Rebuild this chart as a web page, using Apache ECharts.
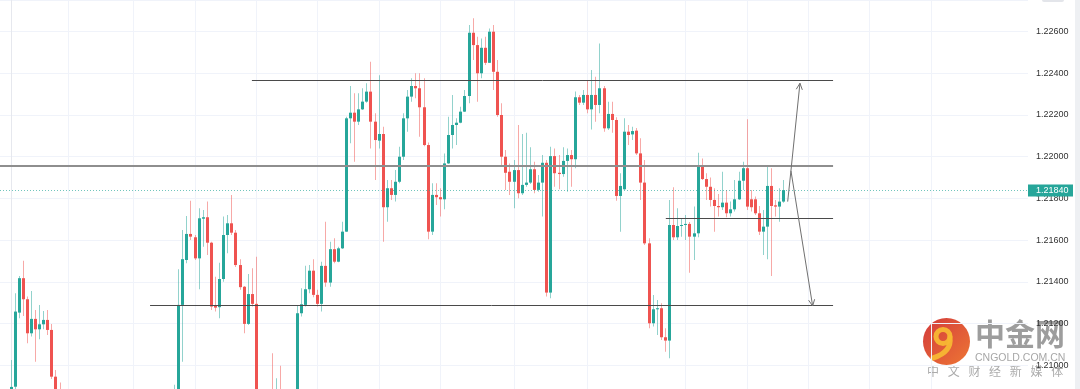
<!DOCTYPE html>
<html><head><meta charset="utf-8">
<script src="https://cdn.jsdelivr.net/npm/echarts@6/dist/echarts.min.js"></script>
<style>html,body{margin:0;padding:0;background:#fff;}#chart{width:1080px;height:389px;}</style>
</head><body><div id="chart"></div>
<script>
// ---- data (candle index = position in array; null = candle outside the visible price range) ----
const opens = [
1.20835,1.20898,1.21253,1.21418,1.21317,1.21154,1.21223,1.21173,1.21197,1.21218,
1.21170,1.20946,1.20859,null,null,null,null,null,null,null,
null,null,null,null,null,null,null,null,null,null,
null,null,null,null,null,null,null,null,null,null,
1.20835,1.20859,1.21290,1.21505,1.21630,1.21614,1.21513,1.21703,1.21710,1.21588,
1.21285,1.21279,1.21414,1.21625,1.21681,1.21636,1.21481,1.21377,1.21199,1.21342,
1.21295,null,null,null,1.20800,1.20680,1.20830,null,null,null,
1.20835,1.21250,1.21290,1.21365,1.21454,1.21338,1.21295,1.21477,1.21397,1.21557,
1.21497,1.21561,1.21641,1.22184,1.22211,1.22168,1.22227,1.22264,1.22312,1.22168,
1.22077,1.22109,1.21758,1.21849,1.21817,1.21880,1.22000,1.22184,1.22288,1.22339,
1.22328,1.22237,1.22056,1.21641,1.21817,1.21806,1.21796,1.21968,1.22104,1.22152,
1.22163,1.22216,1.22291,1.22594,1.22535,1.22400,1.22522,1.22450,1.22599,1.22407,
1.22200,1.22000,1.21928,1.21880,1.21936,1.21825,1.21865,1.21876,1.21940,1.21841,
1.21876,1.21971,1.21349,1.22003,1.21923,1.21917,1.21980,1.22008,1.21988,1.22285,
1.22259,1.22296,1.22227,1.22296,1.22248,1.22328,1.22136,1.22205,1.22176,1.21812,
1.21844,1.22120,1.22107,1.22125,1.22016,1.21876,1.21585,1.21202,1.21269,1.21274,
1.21135,1.21119,1.21673,1.21614,1.21668,1.21673,1.21678,1.21617,1.21633,1.21952,
1.21893,1.21856,1.21793,1.21764,1.21758,1.21780,1.21729,1.21748,1.21796,1.21885,
1.21945,1.21796,1.21796,1.21729,1.21641,1.21665,1.21860,1.21767,1.21761,1.21785
];
const closes = [
1.20897,1.21258,1.21418,1.21317,1.21154,1.21223,1.21173,1.21197,1.21218,1.21170,
1.20946,1.20859,1.20811,null,null,null,null,null,null,null,
null,null,null,null,null,null,null,null,null,null,
null,null,null,null,null,null,null,null,null,null,
1.20873,1.21290,1.21509,1.21630,1.21617,1.21513,1.21705,1.21710,1.21588,1.21282,
1.21277,1.21414,1.21625,1.21681,1.21636,1.21481,1.21375,1.21199,1.21342,1.21295,
1.20859,null,null,null,1.20700,1.20820,1.20720,null,null,null,
1.21250,1.21293,1.21365,1.21454,1.21338,1.21295,1.21477,1.21397,1.21557,1.21497,
1.21561,1.21641,1.22184,1.22211,1.22168,1.22227,1.22264,1.22312,1.22168,1.22080,
1.22109,1.21758,1.21849,1.21817,1.21880,1.22000,1.22184,1.22288,1.22339,1.22328,
1.22237,1.22056,1.21641,1.21817,1.21806,1.21796,1.21968,1.22104,1.22152,1.22163,
1.22216,1.22291,1.22594,1.22535,1.22400,1.22522,1.22450,1.22599,1.22407,1.22200,
1.22000,1.21923,1.21880,1.21936,1.21825,1.21865,1.21876,1.21940,1.21841,1.21876,
1.21971,1.21349,1.22003,1.21921,1.21917,1.21980,1.22008,1.21988,1.22285,1.22259,
1.22296,1.22227,1.22296,1.22248,1.22328,1.22136,1.22205,1.22176,1.21812,1.21860,
1.22120,1.22104,1.22123,1.22016,1.21876,1.21585,1.21202,1.21269,1.21274,1.21135,
1.21119,1.21673,1.21614,1.21668,1.21673,1.21678,1.21617,1.21633,1.21952,1.21893,
1.21856,1.21793,1.21764,1.21758,1.21780,1.21729,1.21748,1.21796,1.21885,1.21945,
1.21761,1.21758,1.21729,1.21641,1.21665,1.21860,1.21764,1.21761,1.21785,1.21840
];
const highs = [
1.21026,1.21346,1.21429,1.21502,1.21330,1.21357,1.21266,1.21290,1.21261,1.21266,
1.21199,1.20978,1.20918,null,null,null,null,null,null,null,
null,null,null,null,null,null,null,null,null,null,
null,null,null,null,null,null,null,null,null,null,
1.20907,1.21461,1.21649,1.21716,1.21789,1.21625,1.21753,1.21745,1.21785,1.21593,
1.21425,1.21492,1.21713,1.21721,1.21817,1.21649,1.21509,1.21381,1.21438,1.21466,
1.21521,null,null,null,1.21058,1.20939,1.20998,null,null,null,
1.21290,1.21370,1.21477,1.21481,1.21509,1.21362,1.21497,1.21689,1.21593,1.21609,
1.21569,1.21689,1.22192,1.22339,1.22304,1.22304,1.22328,1.22352,1.22455,1.22208,
1.22391,1.22144,1.21889,1.21889,1.21936,1.22048,1.22208,1.22320,1.22376,1.22400,
1.22400,1.22376,1.22068,1.21873,1.21873,1.21849,1.22016,1.22192,1.22296,1.22184,
1.22240,1.22320,1.22631,1.22663,1.22575,1.22567,1.22575,1.22615,1.22631,1.22463,
1.22256,1.22032,1.21968,1.21984,1.22152,1.22109,1.22115,1.22045,1.21976,1.21912,
1.22008,1.21984,1.22048,1.22040,1.22008,1.22045,1.22040,1.22032,1.22312,1.22296,
1.22320,1.22368,1.22415,1.22383,1.22543,1.22339,1.22264,1.22264,1.22189,1.21921,
1.22184,1.22152,1.22144,1.22138,1.22088,1.21984,1.21609,1.21338,1.21314,1.21298,
1.21178,1.21793,1.21854,1.21753,1.21705,1.21721,1.21687,1.21761,1.22019,1.21992,
1.21921,1.21901,1.21849,1.21821,1.21928,1.21841,1.21785,1.21889,1.21928,1.21976,
1.22179,1.21841,1.21809,1.21764,1.21745,1.21952,1.21945,1.21793,1.21849,1.21889
];
const lows = [
1.20787,1.20873,1.21226,1.21237,1.21106,1.21138,1.21018,1.21125,1.21173,1.21146,
1.20935,1.20835,1.20787,null,null,null,null,null,null,null,
null,null,null,null,null,null,null,null,null,null,
null,null,null,null,null,null,null,null,null,null,
1.20811,1.20835,1.21018,1.21490,1.21601,1.21505,1.21365,1.21569,1.21529,1.21266,
1.21258,1.21226,1.21401,1.21537,1.21625,1.21472,1.21362,1.21154,1.21194,1.21282,
1.20835,null,null,null,1.20650,1.20620,1.20660,null,null,null,
1.20811,1.21234,1.21282,1.21346,1.21327,1.21282,1.21258,1.21377,1.21377,1.21490,
1.21494,1.21558,1.21639,1.22064,1.21976,1.22152,1.22224,1.22259,1.22040,1.21889,
1.22040,1.21593,1.21689,1.21793,1.21785,1.21873,1.21984,1.22120,1.22264,1.22280,
1.22096,1.22050,1.21604,1.21625,1.21769,1.21713,1.21748,1.21965,1.22040,1.22056,
1.22161,1.22214,1.22256,1.22463,1.22264,1.22376,1.22439,1.22449,1.22320,1.22192,
1.21952,1.21841,1.21817,1.21753,1.21801,1.21817,1.21856,1.21869,1.21825,1.21832,
1.21713,1.21330,1.21322,1.21856,1.21844,1.21904,1.21832,1.21856,1.21945,1.22248,
1.22248,1.22208,1.22131,1.22168,1.22208,1.22120,1.22128,1.22115,1.21789,1.21641,
1.21841,1.22056,1.22080,1.22008,1.21793,1.21577,1.21178,1.21186,1.21146,1.21122,
1.21066,1.21034,1.21601,1.21601,1.21617,1.21601,1.21444,1.21505,1.21614,1.21889,
1.21793,1.21761,1.21641,1.21713,1.21745,1.21710,1.21713,1.21737,1.21793,1.21841,
1.21745,1.21737,1.21721,1.21625,1.21529,1.21509,1.21429,1.21713,1.21689,1.21780
];
// visible price window and tick step of the price scale
const priceMin = 1.20887, priceMax = 1.22751, tickStep = 0.002;
// time grid (candle index of each vertical grid line)
const timeGridIdx = [14, 30, 45, 60, 75, 90, 105, 123, 141, 165, 180, 195, 210, 225];
// drawn horizontal levels: price, start index, end index
const levelPrices = [1.22366, 1.21954, 1.21705, 1.21285];
const levelFrom   = [58.9, -2.7, 160.1, 34.0];
const levelTo     = [201.0, 201.0, 201.0, 201.0];
// drawn arrow path: [x0, p0, x1, p1]
const arrowSegments = [[189.9, 1.21785, 190.7, 1.21933], [190.7, 1.21933, 192.9, 1.22352], [190.7, 1.21933, 196.0, 1.21285]];
const arrowHeads = [false, true, true];

// ---- chart ----
const chart = echarts.init(document.getElementById('chart'), null, {renderer: 'canvas'});
const N = opens.length;
const candleData = [];
for (let i = 0; i < N; i++) if (opens[i] != null) candleData.push([i, opens[i], closes[i], lows[i], highs[i]]);
const lastClose = closes[N - 1];
const UP = '#26a69a', DOWN = '#ef5350';
const FONT = 'Liberation Sans, Arial, sans-serif';

function renderCandle(params, api) {
  const i = api.value(0), o = api.value(1), c = api.value(2), l = api.value(3), h = api.value(4);
  const up = c >= o;
  const po = api.coord([i, o]), pc = api.coord([i, c]);
  const ph = api.coord([i, Math.max(h, o, c)]), pl = api.coord([i, Math.min(l, o, c)]);
  const cx = Math.floor(po[0]);
  const top = Math.min(po[1], pc[1]), bot = Math.max(po[1], pc[1]);
  return {type: 'group', children: [
    {type: 'rect', shape: {x: cx, y: ph[1], width: 1, height: pl[1] - ph[1]}, style: {fill: up ? 'rgba(38,166,154,0.5)' : 'rgba(239,83,80,0.5)'}},
    {type: 'rect', shape: {x: cx - 1, y: top, width: 3, height: Math.max(1, bot - top)}, style: {fill: up ? UP : DOWN}}
  ]};
}
function renderTimeGrid(params, api) {
  const cs = params.coordSys;
  const x = Math.floor(api.coord([api.value(0), lastClose])[0]) + 0.5;
  return {type: 'line', shape: {x1: x, y1: cs.y, x2: x, y2: cs.y + cs.height}, style: {stroke: '#f0f3fa', lineWidth: 1}};
}
const levelStyle = [
  {stroke: '#4a4a4a', lineWidth: 1}, {stroke: '#8e8e8e', lineWidth: 2},
  {stroke: '#4a4a4a', lineWidth: 1}, {stroke: '#4a4a4a', lineWidth: 1}];
function renderLevel(params, api) {
  const a = api.coord([api.value(0), api.value(2)]), b = api.coord([api.value(1), api.value(2)]);
  const st = levelStyle[params.dataIndex];
  const y = st.lineWidth === 1 ? Math.floor(a[1]) + 0.5 : Math.round(a[1]);
  return {type: 'line', shape: {x1: a[0], y1: y, x2: b[0], y2: y}, style: Object.assign({}, st)};
}
function renderArrow(params, api) {
  const a = api.coord([api.value(0), api.value(1)]), b = api.coord([api.value(2), api.value(3)]);
  const st = {stroke: '#707070', lineWidth: 1};
  const children = [{type: 'line', shape: {x1: a[0], y1: a[1], x2: b[0], y2: b[1]}, style: st}];
  if (arrowHeads[params.dataIndex]) {
    const ang = Math.atan2(a[1] - b[1], a[0] - b[0]), len = 7, spread = 0.45;
    children.push({type: 'polyline', shape: {points: [
      [b[0] + len * Math.cos(ang - spread), b[1] + len * Math.sin(ang - spread)],
      [b[0], b[1]],
      [b[0] + len * Math.cos(ang + spread), b[1] + len * Math.sin(ang + spread)]]}, style: Object.assign({fill: null}, st)});
  }
  return {type: 'group', children};
}
function renderLast(params, api) {
  const cs = params.coordSys;
  const p = api.coord([api.value(0), api.value(1)]);
  const y = Math.floor(p[1]) + 0.5;
  const right = cs.x + cs.width;
  return {type: 'group', children: [
    {type: 'line', shape: {x1: cs.x, y1: y, x2: right, y2: y}, style: {stroke: 'rgba(38,166,154,0.65)', lineWidth: 1, lineDash: [1, 2]}},
    {type: 'rect', shape: {x: right, y: y - 6, width: 45, height: 12}, style: {fill: UP}},
    {type: 'text', x: right + 8, y: y + 0.5, style: {text: api.value(1).toFixed(5), fill: '#ffffff', font: '9px ' + FONT, textAlign: 'left', textVerticalAlign: 'middle'}}
  ]};
}

const wmX = 946.5, wmY = 341.5;
chart.setOption({
  animation: false,
  backgroundColor: '#ffffff',
  grid: {left: 0, right: 52, top: 0, bottom: 0, containLabel: false, outerBoundsMode: 'none'},
  xAxis: {type: 'value', min: -2.69, max: 248.66, show: false},
  yAxis: {
    type: 'value', position: 'right', min: priceMin, max: priceMax, splitNumber: 9,
    minInterval: tickStep, maxInterval: tickStep,
    axisLine: {show: true, lineStyle: {color: '#e6e8ee'}}, axisTick: {show: false},
    splitLine: {show: true, lineStyle: {color: '#f0f3fa', width: 1}},
    axisLabel: {color: '#333333', fontSize: 9, fontFamily: FONT, margin: 8, showMinLabel: false, showMaxLabel: false,
      formatter: v => v.toFixed(5)}
  },
  series: [
    {type: 'custom', name: 'timegrid', z: 1, silent: true, renderItem: renderTimeGrid, encode: {x: 0}, data: timeGridIdx.map(v => [v])},
    {type: 'custom', name: 'candles', z: 3, silent: true, clip: true, renderItem: renderCandle, encode: {x: 0, y: [1, 2, 3, 4]}, data: candleData},
    {type: 'custom', name: 'levels', z: 4, silent: true, renderItem: renderLevel, encode: {x: [0, 1], y: 2},
      data: levelPrices.map((p, k) => [levelFrom[k], levelTo[k], p])},
    {type: 'custom', name: 'arrows', z: 5, silent: true, renderItem: renderArrow, encode: {x: [0, 2], y: [1, 3]}, data: arrowSegments},
    {type: 'custom', name: 'last', z: 6, silent: true, clip: false, renderItem: renderLast, encode: {x: 0, y: 1}, data: [[N - 1, lastClose]]}
  ],
  graphic: [
    {type: 'rect', shape: {x: 1075, y: 0, width: 5, height: 389}, style: {fill: '#eef0f3'}, z: 10},
    {type: 'rect', shape: {x: 1042, y: -4, width: 22, height: 6, r: 2}, style: {fill: '#e3e5ea'}, z: 10},
    {type: 'group', z: 100, children: [
      {type: 'circle', shape: {cx: wmX, cy: wmY, r: 23.5}, style: {opacity: 0.92, fill: new echarts.graphic.LinearGradient(0, 0, 1, 1, [{offset: 0, color: '#cf2a2b'}, {offset: 1, color: '#ec6a22'}])}},
      {type: 'circle', shape: {cx: wmX - 3.5, cy: wmY - 5, r: 7}, style: {fill: null, stroke: '#f7b733', lineWidth: 5, opacity: 0.95}},
      {type: 'bezierCurve', shape: {x1: 950, y1: 337, cpx1: 952, cpy1: 352, x2: 933, y2: 358}, style: {fill: null, stroke: '#f7b733', lineWidth: 5, lineCap: 'round', opacity: 0.95}},
      {type: 'text', x: 975, y: 319, style: {text: '中金网', font: 'bold 30px "Noto Sans CJK SC"', fill: 'rgba(140,140,140,0.85)', textVerticalAlign: 'top'}},
      {type: 'text', x: 975, y: 353, style: {text: 'CNGOLD.COM.CN', font: '10.5px "Liberation Sans"', fill: 'rgba(150,150,150,0.85)', textVerticalAlign: 'top'}},
      ...['中','文','财','经','新','媒','体'].map((ch, k) => ({type: 'text', x: 933 + k * 20.7, y: 371.5,
        style: {text: ch, font: '12px "Noto Sans CJK SC"', fill: 'rgba(150,150,150,0.8)', textAlign: 'center', textVerticalAlign: 'middle'}}))
    ]}
  ]
});
</script></body></html>
